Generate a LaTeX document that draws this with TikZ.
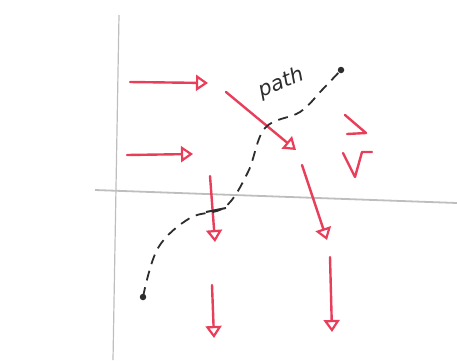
\documentclass[tikz,border=0pt]{standalone}
\usepackage{fontspec}
\setsansfont{DejaVu Sans}
\usetikzlibrary{arrows.meta}
\definecolor{skred}{RGB}{232,62,90}
\definecolor{skgrey}{RGB}{190,190,190}
\definecolor{skink}{RGB}{45,45,45}
\tikzset{
  axis/.style={draw=skgrey, line width=1.2pt},
  field/.style={draw=skred, line width=2.4pt, line cap=round, -{Triangle[open, length=12pt, width=16pt, line width=2.2pt]}},
  stroke/.style={draw=skred, line width=2.4pt, line cap=round, line join=round},
  pathline/.style={draw=skink, line width=1.8pt, dash pattern=on 10pt off 7pt},
  enddot/.style={circle, fill=skink, inner sep=0pt, minimum size=6.5pt},
  lbl/.style={font=\sffamily\itshape\huge, text=skink}
}
\begin{document}
\begin{tikzpicture}[x=1pt, y=-1pt]
  \useasboundingbox (0,0) rectangle (457,360);
  % axes
  \coordinate (yt) at (119,15);
  \coordinate (yb) at (113,360);
  \coordinate (xl) at (95,190);
  \coordinate (xr) at (457,203);
  \draw[axis] (yt) -- (yb);
  \draw[axis, line width=1.8pt] (xl) -- (xr);
  % field arrows
  \coordinate (a1) at (130,82);  \coordinate (b1) at (208,83);
  \coordinate (a2) at (127,155); \coordinate (b2) at (193,154);
  \coordinate (a3) at (226,92);  \coordinate (b3) at (296,150);
  \coordinate (a4) at (210,176); \coordinate (b4) at (215,242);
  \coordinate (a5) at (302,165); \coordinate (b5) at (327,240);
  \coordinate (a6) at (212,285); \coordinate (b6) at (214,338);
  \coordinate (a7) at (330,257); \coordinate (b7) at (332,332);
  \draw[field] (a1) -- (b1);
  \draw[field] (a2) -- (b2);
  \draw[field] (a3) -- (b3);
  \draw[field] (a4) -- (b4);
  \draw[field] (a5) -- (b5);
  \draw[field] (a6) -- (b6);
  \draw[field] (a7) -- (b7);
  \draw[stroke] (345,115) -- (366,133) -- (347,134);
  \draw[stroke] (343,153) -- (355,177) -- (362,152) -- (372,152);
  % path
  \node[enddot] (p0) at (143,297) {};
  \node[enddot] (p9) at (341,70) {};
  \coordinate (p1) at (158,248);
  \coordinate (p2) at (190,218);
  \coordinate (p3) at (225,207);
  \coordinate (p4) at (248,172);
  \coordinate (p5) at (265,128);
  \coordinate (p6) at (300,112);
  \coordinate (p7) at (322,90);
  \draw[pathline] plot[smooth, tension=0.6] coordinates {(p0) (p1) (p2) (p3) (p4) (p5) (p6) (p7) (p9)};
  \coordinate (t1) at (206,212);
  \coordinate (t2) at (226,208);
  \draw[draw=skink, line width=2pt] (t1) -- (t2);
  \node[lbl, rotate=22] (name) at (281,83) {path};
\end{tikzpicture}
\end{document}
